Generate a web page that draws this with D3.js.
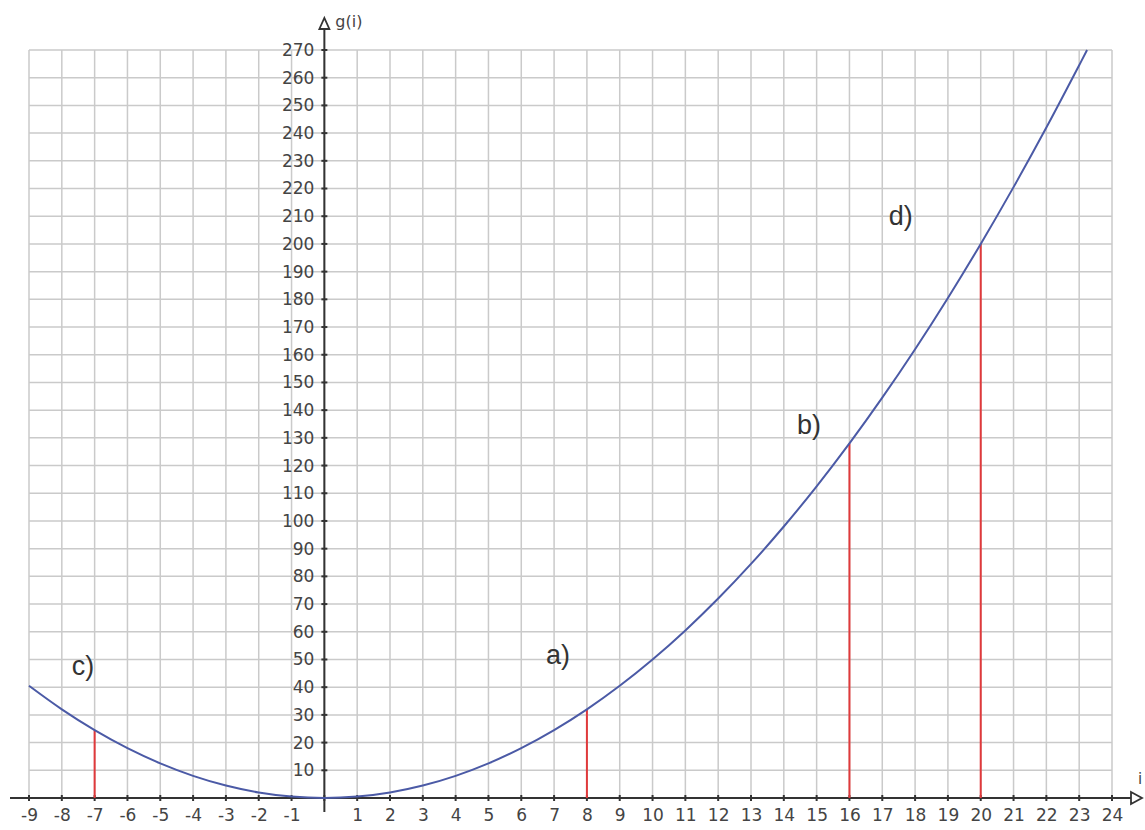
<!DOCTYPE html>
<html><head><meta charset="utf-8">
<script src="https://cdn.jsdelivr.net/npm/d3@7"></script>
<style>body{margin:0;background:#fff}svg{display:block}</style>
</head><body>
<script>
// Values
const curveI = [-9,-8,-7,-6,-5,-4,-3,-2,-1,0,1,2,3,4,5,6,7,8,9,10,11,12,13,14,15,16,17,18,19,20,21,22,23,23.24];
const curveG = [40.5,32,24.5,18,12.5,8,4.5,2,0.5,0,0.5,2,4.5,8,12.5,18,24.5,32,40.5,50,60.5,72,84.5,98,112.5,128,144.5,162,180.5,200,220.5,242,264.5,270];
const stemI = [-7, 8, 16, 20];
const stemG = [24.5, 32, 128, 200];
const markLabels = ["c)", "a)", "b)", "d)"];
const markI = [-7.7, 6.75, 14.4, 17.2];
const markG = [44.5, 48.5, 131.5, 207];
const xTicks = d3.range(-9, 25).filter(d => d !== 0);
const yTicks = d3.range(10, 280, 10);

const W = 1145, H = 830;
const svg = d3.select("body").append("svg").attr("width", W).attr("height", H);
const x = d3.scaleLinear().domain([-9, 24]).range([29, 1112]);
const y = d3.scaleLinear().domain([0, 270]).range([798, 50]);
const font = "DejaVu Sans, Verdana, sans-serif";

const grid = svg.append("g").attr("stroke", "#cacaca").attr("stroke-width", 1.5);
grid.selectAll("line.v").data(d3.range(-9, 25)).join("line")
  .attr("x1", d => x(d)).attr("x2", d => x(d)).attr("y1", y(270)).attr("y2", y(0));
grid.selectAll("line.h").data(d3.range(10, 280, 10)).join("line")
  .attr("x1", x(-9)).attr("x2", x(24)).attr("y1", d => y(d)).attr("y2", d => y(d));

// axes
const axisColor = "#333";
const xAxis = d3.axisBottom(x).tickValues(xTicks).tickSize(0).tickPadding(11).tickFormat(d => String(d));
const gx = svg.append("g").attr("transform", `translate(0,${y(0)})`).call(xAxis);
gx.select(".domain").remove();
gx.selectAll("text").attr("font-family", font).attr("font-size", 17).attr("fill", "#444");
const yAxis = d3.axisLeft(y).tickValues(yTicks).tickSize(0).tickPadding(10).tickFormat(d => String(d));
const gy = svg.append("g").attr("transform", `translate(${x(0)},0)`).call(yAxis);
gy.select(".domain").remove();
gy.selectAll("text").attr("font-family", font).attr("font-size", 17).attr("fill", "#444");

// axis lines
svg.append("line").attr("x1", 10).attr("x2", 1132).attr("y1", y(0)).attr("y2", y(0)).attr("stroke", axisColor).attr("stroke-width", 2);
svg.append("line").attr("x1", x(0)).attr("x2", x(0)).attr("y1", 812).attr("y2", 28).attr("stroke", axisColor).attr("stroke-width", 2);
// tick marks
svg.append("g").selectAll("line").data(d3.range(-9, 25)).join("line")
  .attr("x1", d => x(d)).attr("x2", d => x(d)).attr("y1", y(0) - 3).attr("y2", y(0) + 3)
  .attr("stroke", axisColor).attr("stroke-width", 2);
svg.append("g").selectAll("line").data(yTicks).join("line")
  .attr("x1", x(0) - 3).attr("x2", x(0) + 3).attr("y1", d => y(d)).attr("y2", d => y(d))
  .attr("stroke", axisColor).attr("stroke-width", 2);
// arrows (open triangles)
svg.append("path").attr("d", `M1131,${y(0)-6} L1142,${y(0)} L1131,${y(0)+6} Z`)
  .attr("fill", "#fff").attr("stroke", axisColor).attr("stroke-width", 1.8);
svg.append("path").attr("d", `M${x(0)-5},29 L${x(0)},18 L${x(0)+5},29 Z`)
  .attr("fill", "#fff").attr("stroke", axisColor).attr("stroke-width", 1.8);
svg.append("text").attr("x", x(0) + 11).attr("y", 27).text("g(i)")
  .attr("font-family", font).attr("font-size", 16).attr("fill", "#444");
svg.append("text").attr("x", 1138).attr("y", 784).text("i")
  .attr("font-family", font).attr("font-size", 15).attr("fill", "#444");

// red stems
svg.append("g").selectAll("line").data(stemI).join("line")
  .attr("x1", d => x(d)).attr("x2", d => x(d)).attr("y1", y(0)).attr("y2", (d, i) => y(stemG[i]))
  .attr("stroke", "#e0393b").attr("stroke-width", 2);

// curve
const pts = curveI.map((d, i) => [d, curveG[i]]);
svg.append("path").datum(pts)
  .attr("d", d3.line().x(d => x(d[0])).y(d => y(d[1])).curve(d3.curveCatmullRom))
  .attr("fill", "none").attr("stroke", "#4b5aa6").attr("stroke-width", 2);

// letter labels
svg.append("g").selectAll("text").data(markLabels).join("text")
  .attr("x", (d, i) => x(markI[i])).attr("y", (d, i) => y(markG[i]))
  .text(d => d).attr("font-family", "Liberation Sans, Arial, sans-serif").attr("font-size", 27).attr("fill", "#333");
</script>
</body></html>
